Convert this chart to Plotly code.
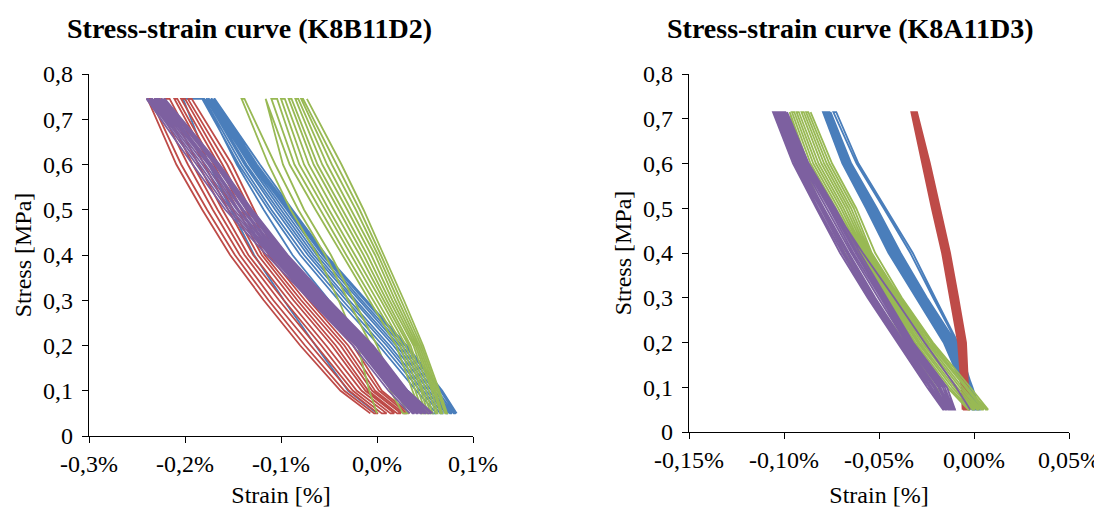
import plotly.graph_objects as go

# ---------------- data ----------------
# stress levels (MPa) at which each branch's strain is read
STRESS_LEVELS_L = [0.05, 0.10, 0.20, 0.30, 0.40, 0.50, 0.60, 0.745]
STRESS_LEVELS_R = [0.05, 0.10, 0.20, 0.30, 0.40, 0.50, 0.60, 0.715]

# Left chart (K8B11D2): strain [%] at the stress levels, one row per loading/unloading branch
L_BLUE = [
    [0.000, -0.030, -0.064, -0.097, -0.128, -0.152, -0.175, -0.202],
    [0.058, 0.032, -0.010, -0.050, -0.088, -0.118, -0.146, -0.180],
    [0.062, 0.041, 0.002, -0.040, -0.080, -0.113, -0.144, -0.182],
    [0.066, 0.045, 0.006, -0.036, -0.076, -0.110, -0.141, -0.180],
    [0.069, 0.048, 0.010, -0.032, -0.072, -0.106, -0.138, -0.178],
    [0.072, 0.051, 0.013, -0.029, -0.069, -0.103, -0.136, -0.177],
    [0.074, 0.054, 0.017, -0.025, -0.066, -0.100, -0.133, -0.176],
    [0.076, 0.057, 0.020, -0.022, -0.063, -0.097, -0.131, -0.175],
    [0.078, 0.060, 0.023, -0.019, -0.060, -0.094, -0.129, -0.173],
    [0.080, 0.063, 0.026, -0.016, -0.057, -0.092, -0.127, -0.172],
    [0.082, 0.066, 0.029, -0.013, -0.055, -0.090, -0.125, -0.170],
    [0.083, 0.068, 0.031, -0.011, -0.053, -0.088, -0.122, -0.169],
]
L_RED = [
    [-0.007, -0.038, -0.080, -0.118, -0.153, -0.182, -0.209, -0.239],
    [-0.003, -0.034, -0.075, -0.113, -0.148, -0.177, -0.204, -0.236],
    [0.001, -0.029, -0.069, -0.108, -0.143, -0.171, -0.197, -0.231],
    [0.005, -0.025, -0.064, -0.102, -0.138, -0.166, -0.192, -0.226],
    [0.010, -0.021, -0.058, -0.097, -0.134, -0.161, -0.186, -0.221],
    [0.014, -0.016, -0.053, -0.092, -0.129, -0.155, -0.180, -0.216],
    [0.018, -0.012, -0.047, -0.087, -0.124, -0.150, -0.174, -0.211],
    [0.021, -0.009, -0.043, -0.083, -0.120, -0.145, -0.170, -0.208],
    [0.025, -0.005, -0.038, -0.079, -0.117, -0.141, -0.165, -0.204],
    [0.028, -0.002, -0.034, -0.075, -0.113, -0.136, -0.161, -0.200],
    [0.031, 0.002, -0.030, -0.071, -0.109, -0.132, -0.156, -0.197],
    [0.034, 0.005, -0.025, -0.066, -0.105, -0.128, -0.151, -0.193],
]
L_GREEN = [
    [0.000, -0.008, -0.020, -0.040, -0.062, -0.090, -0.113, -0.141],
    [0.027, 0.014, -0.006, -0.030, -0.054, -0.082, -0.106, -0.138],
    [0.032, 0.020, 0.000, -0.024, -0.048, -0.076, -0.098, -0.116],
    [0.046, 0.037, 0.020, -0.008, -0.036, -0.064, -0.091, -0.116],
    [0.048, 0.040, 0.024, -0.004, -0.032, -0.059, -0.086, -0.110],
    [0.051, 0.043, 0.027, 0.000, -0.027, -0.054, -0.081, -0.104],
    [0.053, 0.046, 0.030, 0.004, -0.023, -0.050, -0.076, -0.100],
    [0.056, 0.048, 0.033, 0.007, -0.018, -0.045, -0.071, -0.096],
    [0.058, 0.051, 0.035, 0.010, -0.014, -0.040, -0.066, -0.092],
    [0.061, 0.054, 0.038, 0.013, -0.010, -0.036, -0.062, -0.089],
    [0.063, 0.057, 0.040, 0.016, -0.006, -0.031, -0.057, -0.085],
    [0.066, 0.059, 0.042, 0.019, -0.002, -0.027, -0.052, -0.082],
    [0.068, 0.061, 0.044, 0.022, 0.001, -0.022, -0.047, -0.079],
    [0.071, 0.063, 0.046, 0.025, 0.004, -0.018, -0.042, -0.077],
    [0.073, 0.065, 0.048, 0.028, 0.007, -0.014, -0.037, -0.073],
]
L_PURPLE = [
    [0.034, 0.012, -0.025, -0.070, -0.115, -0.158, -0.192, -0.240],
    [0.037, 0.015, -0.022, -0.068, -0.112, -0.155, -0.188, -0.238],
    [0.039, 0.017, -0.020, -0.066, -0.110, -0.152, -0.185, -0.236],
    [0.041, 0.019, -0.018, -0.064, -0.108, -0.149, -0.182, -0.234],
    [0.043, 0.021, -0.016, -0.062, -0.106, -0.146, -0.179, -0.232],
    [0.045, 0.023, -0.014, -0.060, -0.104, -0.144, -0.176, -0.230],
    [0.047, 0.024, -0.012, -0.058, -0.102, -0.141, -0.174, -0.229],
    [0.049, 0.026, -0.010, -0.056, -0.100, -0.139, -0.172, -0.227],
    [0.051, 0.028, -0.008, -0.054, -0.098, -0.136, -0.169, -0.225],
    [0.053, 0.029, -0.007, -0.053, -0.096, -0.134, -0.167, -0.224],
    [0.056, 0.031, -0.005, -0.051, -0.094, -0.132, -0.165, -0.222],
    [0.058, 0.032, -0.004, -0.050, -0.093, -0.130, -0.164, -0.221],
]

# Right chart (K8A11D3)
R_BLUE = [
    [0.0025, -0.0012, -0.0090, -0.0215, -0.0335, -0.0475, -0.0618, -0.0740],
    [0.0028, -0.0010, -0.0085, -0.0205, -0.0322, -0.0465, -0.0608, -0.0725],
    [-0.0010, -0.0058, -0.0160, -0.0305, -0.0450, -0.0568, -0.0693, -0.0795],
    [-0.0005, -0.0052, -0.0152, -0.0298, -0.0442, -0.0560, -0.0688, -0.0790],
    [0.0000, -0.0045, -0.0144, -0.0291, -0.0434, -0.0553, -0.0682, -0.0785],
    [0.0005, -0.0039, -0.0136, -0.0284, -0.0426, -0.0546, -0.0676, -0.0780],
    [0.0010, -0.0032, -0.0128, -0.0277, -0.0418, -0.0539, -0.0670, -0.0775],
    [0.0015, -0.0026, -0.0120, -0.0270, -0.0410, -0.0532, -0.0664, -0.0770],
    [0.0020, -0.0019, -0.0112, -0.0262, -0.0402, -0.0525, -0.0658, -0.0765],
    [0.0025, -0.0013, -0.0104, -0.0255, -0.0394, -0.0518, -0.0652, -0.0760],
    [0.0030, -0.0008, -0.0096, -0.0248, -0.0386, -0.0511, -0.0646, -0.0755],
]
R_RED = [
    [-0.0060, -0.0066, -0.0084, -0.0124, -0.0168, -0.0222, -0.0274, -0.0330],
    [-0.0054, -0.0061, -0.0078, -0.0118, -0.0162, -0.0216, -0.0268, -0.0326],
    [-0.0048, -0.0056, -0.0072, -0.0112, -0.0156, -0.0210, -0.0262, -0.0321],
    [-0.0043, -0.0051, -0.0066, -0.0107, -0.0150, -0.0204, -0.0256, -0.0317],
    [-0.0037, -0.0046, -0.0060, -0.0101, -0.0144, -0.0198, -0.0250, -0.0313],
    [-0.0031, -0.0041, -0.0054, -0.0095, -0.0138, -0.0192, -0.0244, -0.0309],
    [-0.0026, -0.0036, -0.0048, -0.0089, -0.0132, -0.0186, -0.0238, -0.0304],
    [-0.0020, -0.0031, -0.0042, -0.0083, -0.0126, -0.0180, -0.0232, -0.0300],
]
R_GREEN = [
    [-0.0100, -0.0200, -0.0360, -0.0530, -0.0680, -0.0800, -0.0900, -0.0970],
    [-0.0030, -0.0142, -0.0320, -0.0470, -0.0610, -0.0740, -0.0874, -0.0970],
    [-0.0019, -0.0129, -0.0309, -0.0460, -0.0601, -0.0727, -0.0860, -0.0958],
    [-0.0007, -0.0115, -0.0297, -0.0450, -0.0592, -0.0714, -0.0846, -0.0946],
    [0.0004, -0.0102, -0.0286, -0.0440, -0.0583, -0.0700, -0.0832, -0.0934],
    [0.0016, -0.0088, -0.0274, -0.0430, -0.0574, -0.0687, -0.0818, -0.0922],
    [0.0028, -0.0074, -0.0262, -0.0420, -0.0565, -0.0673, -0.0803, -0.0908],
    [0.0039, -0.0061, -0.0250, -0.0410, -0.0556, -0.0660, -0.0789, -0.0896],
    [0.0051, -0.0047, -0.0239, -0.0400, -0.0547, -0.0647, -0.0775, -0.0884],
    [0.0062, -0.0033, -0.0227, -0.0390, -0.0538, -0.0633, -0.0761, -0.0872],
    [0.0074, -0.0020, -0.0216, -0.0380, -0.0520, -0.0620, -0.0747, -0.0860],
]
R_PURPLE = [
    [-0.0020, -0.0094, -0.0260, -0.0420, -0.0585, -0.0740, -0.0880, -0.1010],
    [-0.0163, -0.0247, -0.0405, -0.0560, -0.0705, -0.0830, -0.0953, -0.1058],
    [-0.0156, -0.0235, -0.0396, -0.0550, -0.0693, -0.0820, -0.0943, -0.1050],
    [-0.0150, -0.0224, -0.0386, -0.0540, -0.0682, -0.0810, -0.0934, -0.1042],
    [-0.0143, -0.0212, -0.0377, -0.0530, -0.0670, -0.0800, -0.0925, -0.1034],
    [-0.0137, -0.0201, -0.0368, -0.0520, -0.0659, -0.0790, -0.0916, -0.1025],
    [-0.0129, -0.0188, -0.0357, -0.0504, -0.0646, -0.0774, -0.0906, -0.1016],
    [-0.0123, -0.0177, -0.0348, -0.0493, -0.0635, -0.0763, -0.0896, -0.1008],
    [-0.0116, -0.0165, -0.0339, -0.0482, -0.0623, -0.0752, -0.0887, -0.1000],
    [-0.0109, -0.0154, -0.0329, -0.0471, -0.0612, -0.0741, -0.0877, -0.0992],
    [-0.0100, -0.0142, -0.0320, -0.0460, -0.0600, -0.0730, -0.0870, -0.0984],
]

TITLES = ["Stress-strain curve (K8B11D2)", "Stress-strain curve (K8A11D3)"]
X_TITLE = "Strain [%]"
Y_TITLE = "Stress [MPa]"
L_XTICKS = [-0.3, -0.2, -0.1, 0.0, 0.1]
L_XTEXT = ["-0,3%", "-0,2%", "-0,1%", "0,0%", "0,1%"]
R_XTICKS = [-0.15, -0.10, -0.05, 0.00, 0.05]
R_XTEXT = ["-0,15%", "-0,10%", "-0,05%", "0,00%", "0,05%"]
YTICKS = [0, 0.1, 0.2, 0.3, 0.4, 0.5, 0.6, 0.7, 0.8]
YTEXT = ["0", "0,1", "0,2", "0,3", "0,4", "0,5", "0,6", "0,7", "0,8"]

COLORS = {"blue": "#4A7EBB", "red": "#BE4B48", "green": "#98B954", "purple": "#7D60A0"}

FONT = "Liberation Serif, Times New Roman, serif"


def cycle_path(branches, levels):
    xs, ys = [], []
    for i, br in enumerate(branches):
        pts = list(zip(br, levels))
        if i % 2 == 1:
            pts = pts[::-1]
        for sx, sy in pts:
            xs.append(sx)
            ys.append(sy)
    return xs, ys


fig = go.Figure()

series = [
    ("x", "y", STRESS_LEVELS_L, [("blue", L_BLUE), ("red", L_RED), ("green", L_GREEN), ("purple", L_PURPLE)]),
    ("x2", "y2", STRESS_LEVELS_R, [("blue", R_BLUE), ("red", R_RED), ("green", R_GREEN), ("purple", R_PURPLE)]),
]
for xa, ya, levels, group in series:
    for cname, branches in group:
        xs, ys = cycle_path(branches, levels)
        fig.add_trace(go.Scatter(
            x=xs, y=ys, mode="lines", xaxis=xa, yaxis=ya,
            line=dict(color=COLORS[cname], width=1.8),
            showlegend=False, hoverinfo="skip",
        ))

# page body has an 8px margin, so the figure is 8px smaller and shifted
OFF = 8
W, H = 1102 - OFF, 508 - OFF


def px_x(p):
    return (p - OFF) / W


def px_y(p):
    return (H - (p - OFF)) / H


axis_common = dict(
    showline=True, linecolor="black", linewidth=1.3, mirror=False,
    ticks="outside", ticklen=6, tickwidth=1.3, tickcolor="black",
    showgrid=False, zeroline=False, automargin=False,
    tickfont=dict(family=FONT, size=24, color="black"),
    title_font=dict(family=FONT, size=24, color="black"),
)

fig.update_layout(
    width=W, height=H,
    margin=dict(l=0, r=0, t=0, b=0, autoexpand=False),
    paper_bgcolor="white", plot_bgcolor="white",
    xaxis=dict(domain=[px_x(89), px_x(473)], range=[-0.3, 0.1], anchor="y",
               tickvals=L_XTICKS, ticktext=L_XTEXT,
               title=dict(text=X_TITLE, standoff=14), **axis_common),
    yaxis=dict(domain=[px_y(436), px_y(74)], range=[0, 0.8], anchor="x",
               tickvals=YTICKS, ticktext=YTEXT, ticklabelstandoff=4,
               title=dict(text=Y_TITLE, standoff=4), **axis_common),
    xaxis2=dict(domain=[px_x(689), px_x(1069)], range=[-0.15, 0.05], anchor="y2",
                tickvals=R_XTICKS, ticktext=R_XTEXT,
                title=dict(text=X_TITLE, standoff=14), **axis_common),
    yaxis2=dict(domain=[px_y(432), px_y(74)], range=[0, 0.8], anchor="x2",
                tickvals=YTICKS, ticktext=YTEXT, ticklabelstandoff=4,
                title=dict(text=Y_TITLE, standoff=4), **axis_common),
    annotations=[
        dict(text="<b>" + TITLES[0] + "</b>", x=px_x(249), y=px_y(28), xref="paper", yref="paper",
             showarrow=False, xanchor="center", yanchor="middle",
             font=dict(family=FONT, size=28, color="black")),
        dict(text="<b>" + TITLES[1] + "</b>", x=px_x(850), y=px_y(28), xref="paper", yref="paper",
             showarrow=False, xanchor="center", yanchor="middle",
             font=dict(family=FONT, size=28, color="black")),
    ],
)

fig.write_html("out.html")
